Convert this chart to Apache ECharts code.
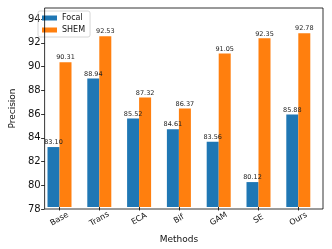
<!DOCTYPE html>
<html><head><meta charset="utf-8">
<script src="https://cdn.jsdelivr.net/npm/echarts@6/dist/echarts.min.js"></script>
<style>html,body{margin:0;padding:0;background:#fff}#c{width:332px;height:249px}</style>
</head><body><div id="c"></div>
<script>
var categories = ['Base','Trans','ECA','Bif','GAM','SE','Ours'];
var focal = [83.10, 88.94, 85.52, 84.61, 83.56, 80.12, 85.88];
var shem = [90.31, 92.53, 87.32, 86.37, 91.05, 92.35, 92.78];
var yTicks = [78,80,82,84,86,88,90,92,94];

var font = 'DejaVu Sans';
var yMin = 78, yMax = 94.93;
var chart = echarts.init(document.getElementById('c'), null, {renderer:'canvas'});
var labelCfg = {show:true, position:'top', distance:1, fontSize:6.5, fontFamily:font, color:'#222',
  formatter:function(p){return p.value.toFixed(2);}};
chart.setOption({
  animation:false,
  textStyle:{fontFamily:font},
  grid:[
    {left:34, right:9, top:8, bottom:40, show:true, borderColor:'#000', borderWidth:0.8, backgroundColor:'transparent', z:5},
    {left:39.6, right:13.8, top:8, bottom:40}
  ],
  legend:{
    data:['Focal','SHEM'], orient:'vertical', left:38, top:11,
    itemWidth:15, itemHeight:5, itemGap:4,
    padding:[3,5,3,4], borderColor:'#ccc', borderWidth:0.8, borderRadius:2,
    textStyle:{fontSize:8, fontFamily:font, color:'#111'}, icon:'rect'
  },
  xAxis:[
    {gridIndex:0, type:'value', show:false, min:0, max:1},
    {gridIndex:1, type:'category', data:categories,
     axisLine:{show:false}, axisTick:{show:true, alignWithLabel:true, length:3.5, lineStyle:{color:'#000', width:0.8}},
     axisLabel:{rotate:30, fontSize:8, fontFamily:font, color:'#111', margin:12, align:'center', verticalAlign:'middle'},
     name:'Methods', nameLocation:'middle', nameGap:28, nameTextStyle:{fontSize:9, fontFamily:font, color:'#111'}}
  ],
  yAxis:[
    {gridIndex:0, type:'value', min:yMin, max:yMax, interval:2,
     axisLine:{show:false}, splitLine:{show:false},
     axisTick:{show:true, length:3.5, lineStyle:{color:'#000', width:0.8}},
     axisLabel:{fontSize:10, fontFamily:font, color:'#111', margin:4, showMaxLabel:false,
       formatter:function(v){return yTicks.indexOf(v)>=0 ? String(v) : '';}},
     name:'Precision', nameLocation:'middle', nameGap:26, nameTextStyle:{fontSize:9, fontFamily:font, color:'#111'}},
    {gridIndex:1, type:'value', min:yMin, max:yMax, show:false, splitLine:{show:false}}
  ],
  series:[
    {name:'Focal', type:'bar', xAxisIndex:1, yAxisIndex:1, data:focal, barWidth:12, barGap:'0%',
     itemStyle:{color:'#1f77b4'}, label:labelCfg},
    {name:'SHEM', type:'bar', xAxisIndex:1, yAxisIndex:1, data:shem, barWidth:12, barGap:'0%',
     itemStyle:{color:'#ff7f0e'}, label:labelCfg}
  ]
});
</script></body></html>
